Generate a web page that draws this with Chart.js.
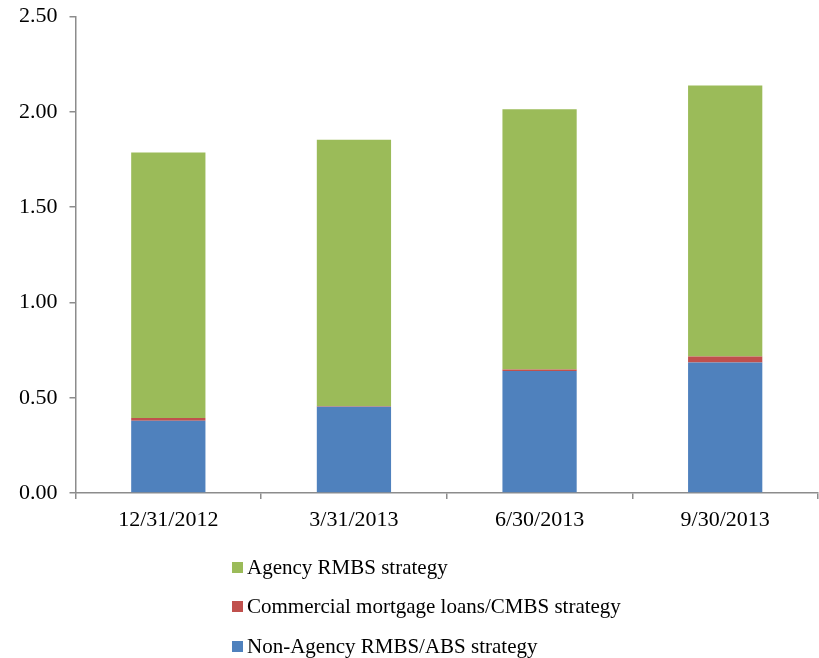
<!DOCTYPE html>
<html>
<head>
<meta charset="utf-8">
<script src="https://cdn.jsdelivr.net/npm/chart.js@4/dist/chart.umd.min.js"></script>
<style>
  html, body { margin: 0; padding: 0; background: #fff; }
  #wrap { position: relative; width: 819px; height: 658px; }
  #legend { position: absolute; left: 0; top: 0; width: 819px; height: 658px; pointer-events: none;
            font-family: "Liberation Serif", "Times New Roman", serif; font-size: 21px; color: #000; }
  .item { position: absolute; left: 232px; white-space: nowrap; display: flex; align-items: center; height: 26px; }
  .box { width: 11px; height: 11px; margin-right: 4px; display: inline-block; }
</style>
</head>
<body>
<div id="wrap">
  <canvas id="c" width="819" height="658"></canvas>
  <div id="legend"></div>
</div>
<script>
const categories = ["12/31/2012", "3/31/2013", "6/30/2013", "9/30/2013"];
const nonAgency = [0.380, 0.453, 0.641, 0.685];
const commercial = [0.014, 0.003, 0.007, 0.031];
const agency = [1.392, 1.398, 1.365, 1.422];
const seriesNames = ["Non-Agency RMBS/ABS strategy", "Commercial mortgage loans/CMBS strategy", "Agency RMBS strategy"];
const seriesColors = ["#4F81BD", "#C0504D", "#9BBB59"];

const FONT = "'Liberation Serif', 'Times New Roman', serif";
const axisColor = "#8c8c8c";

const datasets = [nonAgency, commercial, agency].map((d, i) => ({
  label: seriesNames[i],
  data: d,
  backgroundColor: seriesColors[i],
  borderWidth: 0,
  barPercentage: 0.4,
  categoryPercentage: 1.0
}));

const chart = new Chart(document.getElementById("c"), {
  type: "bar",
  data: { labels: categories, datasets },
  options: {
    responsive: false,
    animation: false,
    devicePixelRatio: 1,
    layout: { padding: { left: 7, right: 1, top: 16.5, bottom: 116.5 } },
    plugins: { legend: { display: false }, tooltip: { enabled: false } },
    scales: {
      x: {
        stacked: true,
        grid: { display: true, drawOnChartArea: false, drawTicks: true, tickLength: 6, color: axisColor, lineWidth: 1.5, offset: true },
        border: { display: true, color: axisColor, width: 1.5 },
        ticks: { color: "#000", font: { family: FONT, size: 22 }, padding: 8, maxRotation: 0 }
      },
      y: {
        stacked: true,
        min: 0, max: 2.5,
        grid: { display: true, drawOnChartArea: false, drawTicks: true, tickLength: 6, color: axisColor, lineWidth: 1.5 },
        border: { display: true, color: axisColor, width: 1.5 },
        ticks: { stepSize: 0.5, color: "#000", font: { family: FONT, size: 22, lineHeight: 0.4 }, padding: 12,
                 callback: v => Number(v).toFixed(2) }
      }
    }
  }
});

// HTML legend, listed top-to-bottom in reverse stacking order
const legend = document.getElementById("legend");
const order = [2, 1, 0];
order.forEach((di, row) => {
  const ds = chart.data.datasets[di];
  const item = document.createElement("div");
  item.className = "item";
  item.style.top = (567 + row * 39.5 - 13) + "px";
  const box = document.createElement("span");
  box.className = "box";
  box.style.background = ds.backgroundColor;
  const txt = document.createElement("span");
  txt.textContent = ds.label;
  item.appendChild(box);
  item.appendChild(txt);
  legend.appendChild(item);
});
</script>
</body>
</html>
